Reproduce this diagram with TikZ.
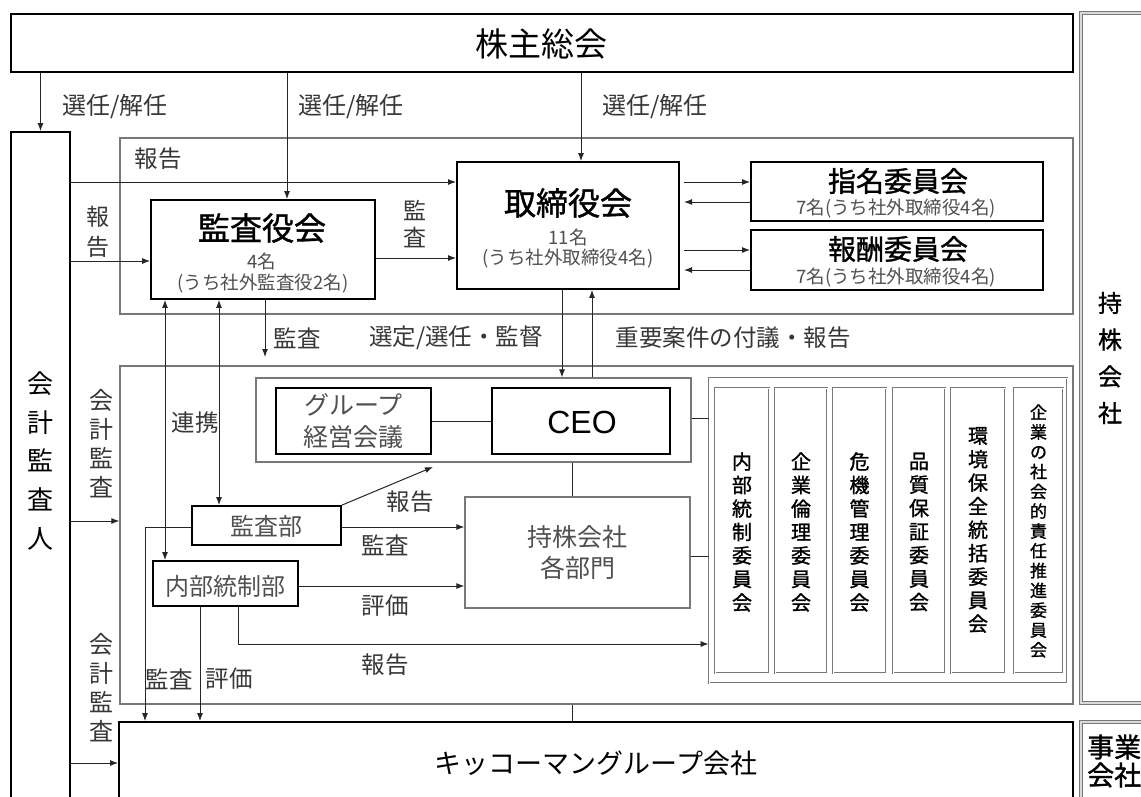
\documentclass[tikz,border=0pt]{standalone}
\usepackage{fontspec}
\newfontfamily\jp{Noto Sans CJK JP}
\newfontfamily\jpb[FakeBold=1.2]{Noto Sans CJK JP}
\newfontfamily\lat{Liberation Sans}
\usetikzlibrary{arrows.meta}
\definecolor{txt}{RGB}{55,55,55}
\definecolor{ltxt}{RGB}{80,80,80}
\definecolor{frm}{RGB}{120,120,120}
\tikzset{
  thickbox/.style={draw=black, line width=1.8pt, inner sep=0pt},
  thinbox/.style={draw=frm, line width=1.2pt, inner sep=0pt},
  dblbox/.style={draw=frm, double=white, double distance=1pt, line width=0.7pt, inner sep=0pt},
  hvybox/.style={draw=frm, double=white!70!gray, double distance=1.2pt, line width=1.2pt, inner sep=0pt},
  conn/.style={draw=black!85, line width=1pt},
  arr/.style={conn, -{Latex[length=8pt,width=6pt]}},
  darr/.style={conn, {Latex[length=8pt,width=6pt]}-{Latex[length=8pt,width=6pt]}},
  lbl/.style={font=\jp\fontsize{23.5}{23.5}\selectfont, text=txt, inner sep=0pt},
  title/.style={font=\jpb\fontsize{32}{32}\selectfont, text=black, inner sep=0pt},
  sub/.style={font=\jp\fontsize{18.5}{18.5}\selectfont, text=ltxt, inner sep=0pt},
  boxtxt/.style={font=\jp\fontsize{24}{31}\selectfont, text=ltxt, inner sep=0pt, align=center},
  vlbl/.style={font=\jp\fontsize{24}{29}\selectfont, text=txt, inner sep=0pt, align=center},
  comtxt/.style={font=\jpb\fontsize{20}{23.5}\selectfont, text=black, inner sep=0pt, align=center},
}
\begin{document}
\begin{tikzpicture}[x=1pt, y={(0pt,-1pt)}]
\useasboundingbox (0,0) rectangle (1141,796);
\clip (0,0) rectangle (1141,796);
\fill[white] (0,0) rectangle (1141,796);

% frames
\node[thinbox, minimum width=953, minimum height=176] (boardreg) at (596.5,226) {};
\node[thinbox, minimum width=953, minimum height=338] (mgmt) at (596.5,535) {};
\node[thinbox, minimum width=435, minimum height=84] (ceofr) at (473.5,420) {};
\node[dblbox, minimum width=358, minimum height=305] (comfr) at (888,530.5) {};
\node[hvybox, minimum width=89, minimum height=690] (mochikabu) at (1125.5,358) {};
\node[hvybox, minimum width=89, minimum height=98] (jigyo) at (1125.5,771) {};

% main boxes
\node[thickbox, minimum width=1062, minimum height=58] (kabu) at (542,43) {};
\node[thickbox, minimum width=59, minimum height=688] (kaikei) at (40.5,476) {};
\node[thickbox, minimum width=224, minimum height=99] (kansa) at (263,249.5) {};
\node[thickbox, minimum width=222, minimum height=127] (tori) at (568,225.5) {};
\node[thickbox, minimum width=292, minimum height=59] (shimei) at (897,191.5) {};
\node[thickbox, minimum width=292, minimum height=60] (hoshu) at (897,260) {};
\node[thickbox, minimum width=155, minimum height=66] (group) at (353.5,421) {};
\node[thickbox, minimum width=178, minimum height=66] (ceo) at (581,421) {};
\node[thinbox, minimum width=225, minimum height=111] (bumon) at (577.5,552.5) {};
\node[thickbox, minimum width=149, minimum height=39] (kansabu) at (266.5,525.5) {};
\node[thickbox, minimum width=145, minimum height=45] (naibu) at (225.5,583.5) {};
\node[thickbox, minimum width=954, minimum height=98] (kikko) at (596,771) {};

% committee boxes
\node[dblbox, minimum width=54, minimum height=285] (com1) at (742,530.5) {};
\node[dblbox, minimum width=52, minimum height=285] (com2) at (801,530.5) {};
\node[dblbox, minimum width=53, minimum height=285] (com3) at (859.5,530.5) {};
\node[dblbox, minimum width=52, minimum height=285] (com4) at (919,530.5) {};
\node[dblbox, minimum width=54, minimum height=285] (com5) at (978,530.5) {};
\node[dblbox, minimum width=49, minimum height=285] (com6) at (1038.5,530.5) {};

% helper coordinates
\coordinate (c287) at (287,0);
\coordinate (c581) at (581,0);
\coordinate (c684) at (684,0);
\coordinate (c562) at (562,0);
\coordinate (c592) at (592,0);
\coordinate (c265) at (265,0);
\coordinate (c165) at (165,0);
\coordinate (c219) at (219,0);
\coordinate (c145) at (145,0);
\coordinate (c200) at (200,0);
\coordinate (c238) at (238,0);
\coordinate (c572) at (572,0);
\coordinate (r182) at (0,182);
\coordinate (r202) at (0,202);
\coordinate (r250) at (0,250);
\coordinate (r270) at (0,270);
\coordinate (r261) at (0,261);
\coordinate (r258) at (0,258);
\coordinate (r418) at (0,418);
\coordinate (r556) at (0,556);
\coordinate (r527) at (0,527);
\coordinate (r586) at (0,586);
\coordinate (r644) at (0,644);
\coordinate (r521) at (0,521);
\coordinate (r763) at (0,763);
\coordinate (kansaend) at (265,357);
\coordinate (hokokuend) at (433,467);

% connectors
\draw[arr] (kabu.south -| kaikei.north) -- (kaikei.north);
\draw[arr] (kabu.south -| c287) -- (kansa.north -| c287);
\draw[arr] (kabu.south -| c581) -- (tori.north -| c581);
\draw[arr] (kaikei.east |- r182) -- (tori.west |- r182);
\draw[arr] (kaikei.east |- r261) -- (kansa.west |- r261);
\draw[arr] (kansa.east |- r258) -- (tori.west |- r258);
\draw[arr] (c684 |- r182) -- (shimei.west |- r182);
\draw[arr] (shimei.west |- r202) -- (c684 |- r202);
\draw[arr] (c684 |- r250) -- (hoshu.west |- r250);
\draw[arr] (hoshu.west |- r270) -- (c684 |- r270);
\draw[arr] (tori.south -| c562) -- (ceofr.north -| c562);
\draw[arr] (ceofr.north -| c592) -- (tori.south -| c592);
\draw[arr] (kansa.south -| c265) -- (kansaend);
\draw[darr] (kansa.south -| c165) -- (naibu.north -| c165);
\draw[darr] (kansa.south -| c219) -- (kansabu.north -| c219);
\draw[conn] (group.east) -- (ceo.west);
\draw[conn] (ceofr.east |- r418) -- (comfr.west |- r418);
\draw[conn] (ceofr.south -| c572) -- (bumon.north -| c572);
\draw[conn] (bumon.east |- r556) -- (comfr.west |- r556);
\draw[arr] (kansabu.north east) -- (hokokuend);
\draw[arr] (kansabu.east |- r527) -- (bumon.west |- r527);
\draw[arr] (naibu.east |- r586) -- (bumon.west |- r586);
\draw[arr] (kansabu.west |- r527) -| (kikko.north -| c145);
\draw[arr] (naibu.south -| c200) -- (kikko.north -| c200);
\draw[arr] (naibu.south -| c238) |- (comfr.west |- r644);
\draw[arr] (kaikei.east |- r521) -- (mgmt.west |- r521);
\draw[arr] (kaikei.east |- r763) -- (kikko.west |- r763);
\draw[conn] (mgmt.south -| c572) -- (kikko.north -| c572);

% box texts
\node[font=\jp\fontsize{33}{33}\selectfont, inner sep=0pt] (tkabu) at (541,44) {株主総会};
\node[font=\jp\fontsize{26}{38.75}\selectfont, align=center, inner sep=0pt] (tkaikei) at (40.5,461) {会\\計\\監\\査\\人};
\node[title] (tkansa) at (262,228) {監査役会};
\node[sub] (tkansa2) at (262,261) {4名};
\node[sub] (tkansa3) at (263,284) {(うち社外監査役2名)};
\node[title] (ttori) at (568,203) {取締役会};
\node[sub] (ttori2) at (568,237) {11名};
\node[sub] (ttori3) at (568,259) {(うち社外取締役4名)};
\node[font=\jpb\fontsize{28}{28}\selectfont, inner sep=0pt] (tshimei) at (898,181) {指名委員会};
\node[sub] (tshimei2) at (896,209) {7名(うち社外取締役4名)};
\node[font=\jpb\fontsize{28}{28}\selectfont, inner sep=0pt] (thoshu) at (898,249) {報酬委員会};
\node[sub] (thoshu2) at (896,278) {7名(うち社外取締役4名)};
\node[boxtxt, font=\jp\fontsize{25}{32}\selectfont] (tgroup) at (353.5,421) {グループ\\経営会議};
\node[font=\lat\fontsize{32}{32}\selectfont, inner sep=0pt] (tceo) at (582,422) {CEO};
\node[boxtxt, font=\jp\fontsize{25}{31}\selectfont] (tbumon) at (577.5,553) {持株会社\\各部門};
\node[boxtxt] (tkansabu) at (266.5,526) {監査部};
\node[boxtxt] (tnaibu) at (225.5,586) {内部統制部};
\node[font=\jp\fontsize{27}{27}\selectfont, inner sep=0pt] (tkikko) at (596,763) {キッコーマングループ会社};
\node[font=\jpb\fontsize{24}{36.7}\selectfont, align=center, inner sep=0pt] (tmochi) at (1110,358) {持\\株\\会\\社};
\node[font=\jpb\fontsize{27}{28}\selectfont, align=left, anchor=west, inner sep=0pt] (tjigyo) at (1087,761) {事業\\会社};

% committee texts
\node[comtxt] (tcom1) at (742,532) {内\\部\\統\\制\\委\\員\\会};
\node[comtxt] (tcom2) at (801,532) {企\\業\\倫\\理\\委\\員\\会};
\node[comtxt] (tcom3) at (859.5,532) {危\\機\\管\\理\\委\\員\\会};
\node[comtxt] (tcom4) at (919,532) {品\\質\\保\\証\\委\\員\\会};
\node[comtxt] (tcom5) at (978,530) {環\\境\\保\\全\\統\\括\\委\\員\\会};
\node[comtxt, font=\jpb\fontsize{17}{19.8}\selectfont] (tcom6) at (1038.5,531) {企\\業\\の\\社\\会\\的\\責\\任\\推\\進\\委\\員\\会};

% labels
\node[lbl, font=\jp\fontsize{24}{24}\selectfont] (l1) at (115,107) {選任/解任};
\node[lbl, font=\jp\fontsize{24}{24}\selectfont] (l2) at (351,107) {選任/解任};
\node[lbl, font=\jp\fontsize{24}{24}\selectfont] (l3) at (655,107) {選任/解任};
\node[lbl] (l4) at (158,159) {報告};
\node[lbl, align=center, font=\jp\fontsize{23}{30}\selectfont] (l5) at (98,232) {報\\告};
\node[lbl, align=center, font=\jp\fontsize{23}{27}\selectfont] (l6) at (415,224) {監\\査};
\node[lbl] (l7) at (297,338) {監査};
\node[lbl] (l8) at (456,338) {選定/選任・監督};
\node[lbl] (l9) at (733,338) {重要案件の付議・報告};
\node[lbl] (l10) at (195,423) {連携};
\node[lbl] (l11) at (410,502) {報告};
\node[lbl] (l12) at (385,545) {監査};
\node[lbl] (l13) at (385,606) {評価};
\node[lbl] (l14) at (385,665) {報告};
\node[lbl] (l15) at (169,679) {監査};
\node[lbl] (l16) at (229,679) {評価};
\node[vlbl] (l17) at (101,444) {会\\計\\監\\査};
\node[vlbl] (l18) at (101,688) {会\\計\\監\\査};
\end{tikzpicture}
\end{document}
